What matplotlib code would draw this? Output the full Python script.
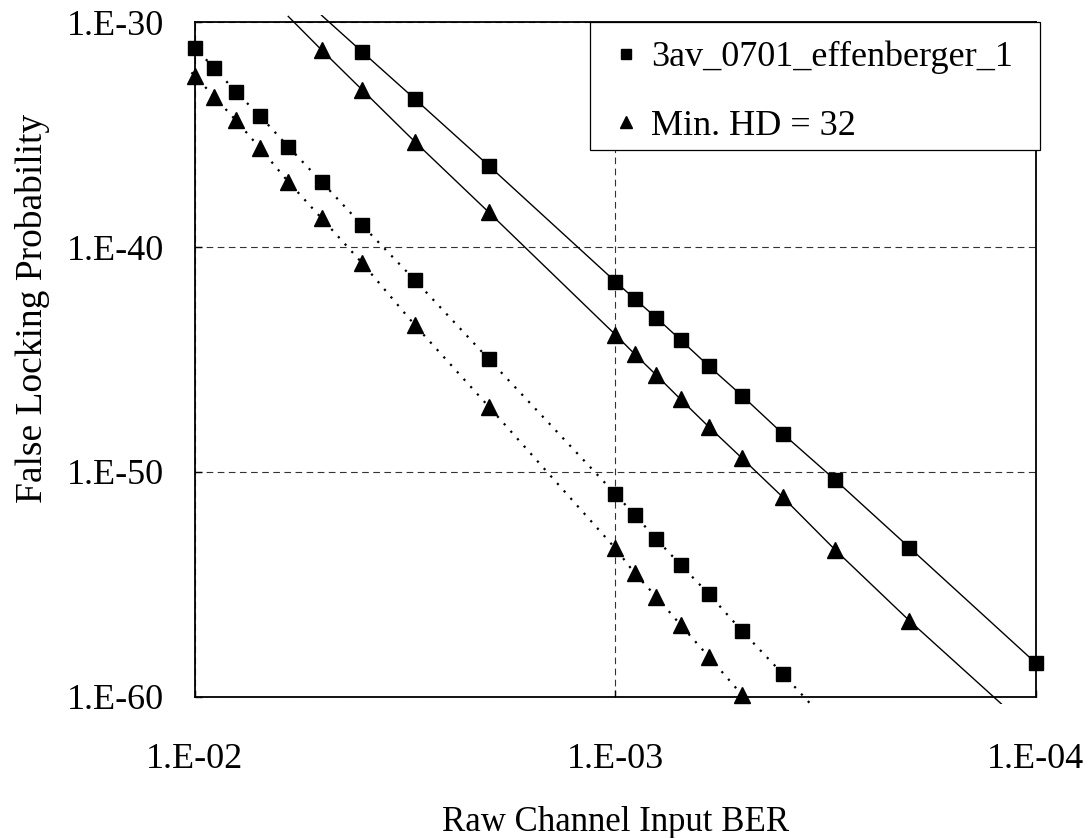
import numpy as np
import matplotlib
matplotlib.use("Agg")
import matplotlib.pyplot as plt
from matplotlib.lines import Line2D
from matplotlib.patches import Rectangle
from matplotlib.ticker import FixedLocator, FuncFormatter, NullLocator

plt.rcParams['font.family'] = ['Liberation Serif', 'DejaVu Serif']

# values (probabilities kept as powers of ten)
ber_solid_sq = [0.005, 0.004, 0.003, 0.002, 0.001, 0.0009, 0.0008, 0.0007,
                0.0006, 0.0005, 0.0004, 0.0003, 0.0002, 0.0001]
exp_solid_sq = [-29.7, -31.33, -33.42, -36.39, -41.54, -42.31, -43.14, -44.13,
                -45.29, -46.61, -48.30, -50.36, -53.36, -58.50]

ber_solid_tri = [0.006, 0.005, 0.004, 0.003, 0.002, 0.001, 0.0009, 0.0008,
                 0.0007, 0.0006, 0.0005, 0.0004, 0.0003, 0.0002, 0.0001]
exp_solid_tri = [-29.75, -31.24, -33.02, -35.32, -38.46, -43.9, -44.76, -45.69,
                 -46.77, -47.99, -49.39, -51.12, -53.47, -56.61, -61.7]

ber_dot_sq = [0.011, 0.01, 0.009, 0.008, 0.007, 0.006, 0.005, 0.004, 0.003,
              0.002, 0.001, 0.0009, 0.0008, 0.0007, 0.0006, 0.0005, 0.0004, 0.0003]
exp_dot_sq = [-30.4, -31.17, -32.03, -33.10, -34.18, -35.54, -37.10, -39.04, -41.47,
              -44.99, -50.98, -51.91, -52.98, -54.13, -55.42, -57.07, -58.98, -61.5]

ber_dot_tri = [0.011, 0.01, 0.009, 0.008, 0.007, 0.006, 0.005, 0.004, 0.003,
               0.002, 0.001, 0.0009, 0.0008, 0.0007, 0.0006, 0.0005]
exp_dot_tri = [-31.6, -32.4, -33.32, -34.36, -35.61, -37.10, -38.72, -40.72, -43.47,
               -47.10, -53.4, -54.50, -55.54, -56.80, -58.21, -59.91]

legend_labels = ['3av_0701_effenberger_1', 'Min. HD = 32']
x_ticks = [1e-2, 1e-3, 1e-4]
y_ticks = [1e-30, 1e-40, 1e-50, 1e-60]

XLIM = (1e-2, 1e-4)
YLIM = (1e-60, 1e-30)

fig = plt.figure(figsize=(10.88, 8.38), dpi=100)
ax = fig.add_axes([0.1792, 0.1683, 0.7730, 0.8054])
ax.set_xscale('log')
ax.set_yscale('log')
ax.set_xlim(*XLIM)
ax.set_ylim(*YLIM)

# excel lets lines run a few pixels past the plot box
line_clip = Rectangle((-0.009, -0.011), 1.018, 1.022, transform=ax.transAxes)

series = [
    (ber_solid_sq, exp_solid_sq, 's', '-'),
    (ber_solid_tri, exp_solid_tri, '^', '-'),
    (ber_dot_sq, exp_dot_sq, 's', (0, (1, 3.5))),
    (ber_dot_tri, exp_dot_tri, '^', (0, (1, 3.5))),
]

for ber, ex, mk, ls in series:
    x = np.array(ber)
    y = np.power(10.0, np.array(ex))
    lw = 1.0 if ls == '-' else 1.6
    ln, = ax.plot(x, y, color='black', linestyle=ls, linewidth=lw, zorder=3)
    ln.set_clip_path(line_clip)
    # markers only for points inside the plot box, drawn whole
    inside = (x <= XLIM[0] * 1.001) & (x >= XLIM[1] / 1.001) & \
             (y <= YLIM[1] * 1.05) & (y >= YLIM[0] / 1.05)
    ax.plot(x[inside], y[inside], linestyle='none', marker=mk,
            markersize=9.5 if mk == 's' else 11,
            color='black', clip_on=False, zorder=4)

ax.xaxis.set_major_locator(FixedLocator(x_ticks))
ax.yaxis.set_major_locator(FixedLocator(y_ticks))
ax.xaxis.set_minor_locator(NullLocator())
ax.yaxis.set_minor_locator(NullLocator())
fmt = FuncFormatter(lambda v, p: f"1.E{int(np.round(np.log10(v))):03d}")
ax.xaxis.set_major_formatter(fmt)
ax.yaxis.set_major_formatter(fmt)

ax.tick_params(axis='both', direction='in', length=5, width=1.0, labelsize=26)
ax.tick_params(axis='x', pad=33)
ax.tick_params(axis='y', pad=22)

ax.grid(True, which='major', color='#333333', linestyle=(0, (6, 4)), linewidth=0.8)
ax.set_axisbelow(True)

for sp in ax.spines.values():
    sp.set_linewidth(1.3)
    sp.set_color('black')

ax.set_xlabel('Raw Channel Input BER', fontsize=25, labelpad=22)
ax.set_ylabel('False Locking Probability', fontsize=27, labelpad=12)
ax.yaxis.label.set_y(0.575)

# legend box drawn by hand so it sits where excel put it
ax.add_patch(Rectangle((0.4697, 0.8104), 0.5351, 0.1896, transform=ax.transAxes,
                       facecolor='white', edgecolor='black', linewidth=0.9,
                       clip_on=False, zorder=9))

handles = [Line2D([], [], linestyle='none', marker='s', markersize=7.2, color='black'),
           Line2D([], [], linestyle='none', marker='^', markersize=8, color='black')]
leg = ax.legend(handles, legend_labels, loc='upper left', bbox_to_anchor=(0.4792, 0.991),
                borderaxespad=0, fontsize=26, frameon=False, borderpad=0.35,
                labelspacing=0.98, handlelength=0.85, handletextpad=0.27)
leg.set_zorder(10)

fig.savefig('out.png', dpi=100)
